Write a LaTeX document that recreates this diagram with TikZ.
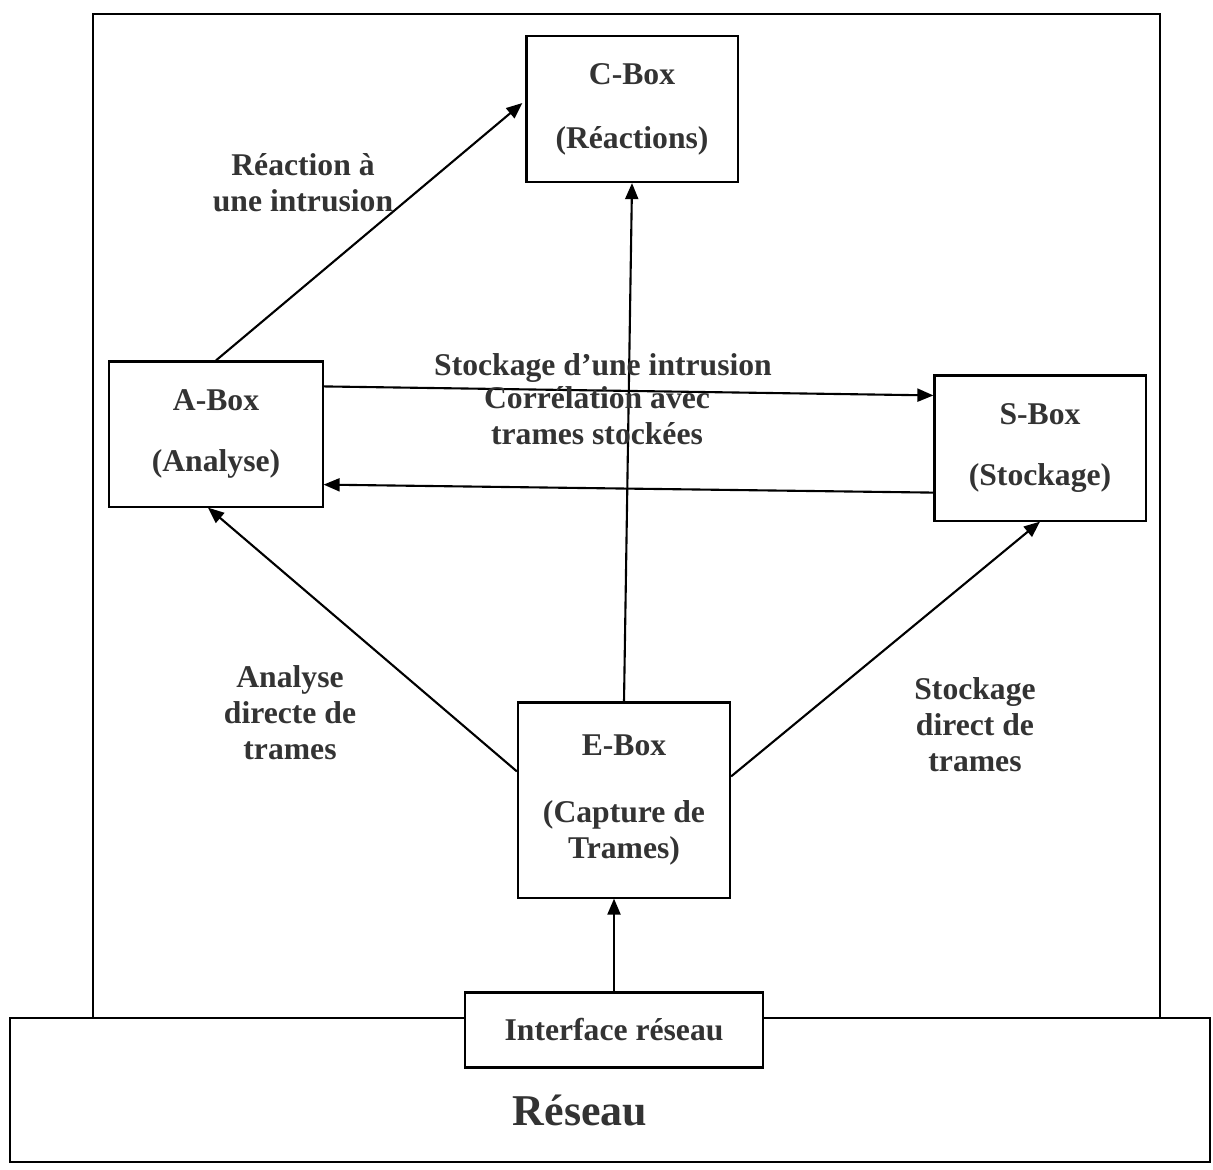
\documentclass[tikz,border=0pt]{standalone}
\usepackage{fontspec}
\setmainfont{Liberation Serif}
\usetikzlibrary{arrows.meta,calc}
\begin{document}
\begin{tikzpicture}[
    x=0.01cm, y=-0.01cm,
    mybox/.style={draw, fill=white, line width=0.6pt, align=center, inner sep=0pt},
    mylabel/.style={font=\bfseries\fontsize{9}{10.2}\selectfont, text=black!80, align=center},
    myarrow/.style={line width=0.6pt, -{Triangle[length=1.6mm, width=1.3mm]}}
]
    \useasboundingbox (0,0) rectangle (1213,1169);

    % frame and network
    \draw[line width=0.6pt] (93,1018) -- (93,14) -- (1160,14) -- (1160,1018);
    \draw[line width=0.6pt] (10,1018) rectangle (1210,1162);
    \node[mylabel, font=\bfseries\fontsize{12.5}{14}\selectfont] (reseau) at (580,1110) {Réseau};

    % boxes
    \node[mybox, mylabel, minimum width=2.11cm, minimum height=1.46cm] (cbox) at (632,109)
        {C-Box\\[8pt](Réactions)};
    \node[mybox, mylabel, minimum width=2.13cm, minimum height=1.45cm] (abox) at (216,434)
        {A-Box\\[7pt](Analyse)};
    \node[mybox, mylabel, minimum width=2.11cm, minimum height=1.45cm] (sbox) at (1040,448)
        {S-Box\\[7pt](Stockage)};
    \node[mybox, mylabel, minimum width=2.12cm, minimum height=1.95cm] (ebox) at (624,800)
        {E-Box\\[9pt](Capture de\\Trames)};
    \node[mybox, mylabel, minimum width=2.97cm, minimum height=0.75cm] (iface) at (614,1030)
        {Interface réseau};

    % connectors
    \coordinate (eleft) at ($(ebox.north west)+(0,70)$);
    \coordinate (eright) at ($(ebox.north east)+(0,75)$);
    \coordinate (aout) at ($(abox.north east)+(0,26)$);
    \coordinate (ain) at ($(abox.south east)+(0,-23)$);
    \coordinate (sin) at ($(sbox.north west)+(0,21)$);
    \coordinate (sout) at ($(sbox.south west)+(0,-29)$);

    \draw[myarrow] (iface.north) -- (iface.north |- ebox.south);
    \draw[myarrow] (ebox.north) -- (cbox.south);
    \draw[myarrow] (eleft) -- ($(abox.south)+(-8,0)$);
    \draw[myarrow] (eright) -- (sbox.south);
    \draw[myarrow] (abox.north) -- ($(cbox.west)+(-3,-6)$);
    \draw[myarrow] (aout) -- (sin);
    \draw[myarrow] (sout) -- (ain);

    % labels
    \node[mylabel] (lreact) at (303,183) {Réaction à\\une intrusion};
    \node[mylabel] (lstock) at (603,368) {Stockage d’une intrusion};
    \node[mylabel] (lcorr) at (597,416) {Corrélation avec\\trames stockées};
    \node[mylabel] (lanal) at (290,713) {Analyse\\directe de\\trames};
    \node[mylabel] (ldirect) at (975,725) {Stockage\\direct de\\trames};
\end{tikzpicture}
\end{document}
